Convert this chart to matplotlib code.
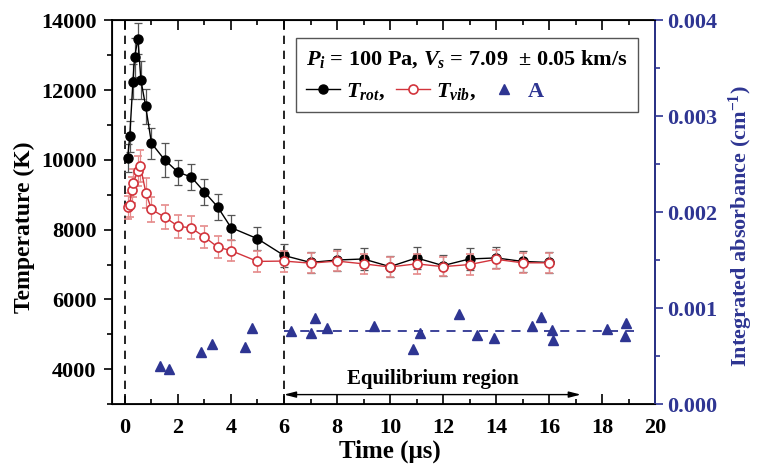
import numpy as np
import matplotlib
matplotlib.use("Agg")
import matplotlib.pyplot as plt
from matplotlib.lines import Line2D
from matplotlib.ticker import MultipleLocator, FormatStrFormatter

plt.rcParams['font.family'] = ['Liberation Serif', 'DejaVu Serif']
plt.rcParams['font.weight'] = 'bold'
plt.rcParams['mathtext.fontset'] = 'custom'
plt.rcParams['mathtext.rm'] = 'Liberation Serif:bold'
plt.rcParams['mathtext.it'] = 'Liberation Serif:italic:bold'
plt.rcParams['mathtext.bf'] = 'Liberation Serif:bold'

# rotational temperature (K) with error bars
t_rot = [0.1, 0.18, 0.3, 0.36, 0.49, 0.6, 0.78, 1.0, 1.5, 2, 2.5, 3, 3.5, 4, 5,
         6, 7, 8, 9, 10, 11, 12, 13, 14, 15, 16]
T_rot = [10050, 10680, 12240, 12940, 13480, 12290, 11540, 10480, 10000, 9650,
         9510, 9080, 8650, 8060, 7740, 7260, 7060, 7130, 7160, 6940, 7190,
         6970, 7160, 7190, 7090, 7060]
err_rot = [400, 450, 500, 550, 450, 550, 500, 450, 480, 360, 380, 380, 360,
           350, 330, 320, 300, 310, 320, 300, 310, 300, 310, 300, 290, 300]

# vibrational temperature (K) with error bars
t_vib = [0.1, 0.18, 0.25, 0.32, 0.48, 0.58, 0.79, 1.0, 1.5, 2, 2.5, 3, 3.5, 4,
         5, 6, 7, 8, 9, 10, 11, 12, 13, 14, 15, 16]
T_vib = [8650, 8700, 9140, 9350, 9680, 9830, 9050, 8580, 8360, 8100, 8050,
         7790, 7500, 7400, 7090, 7100, 7040, 7100, 7020, 6930, 7020, 6940,
         7000, 7150, 7050, 7050]
err_vib = [330, 350, 380, 400, 420, 460, 420, 370, 350, 335, 330, 320, 320,
           300, 290, 300, 280, 290, 290, 280, 290, 280, 290, 280, 280, 290]

# integrated absorbance (cm^-1)
t_abs = [1.33, 1.65, 2.87, 3.28, 4.54, 4.80, 6.25, 7.02, 7.18, 7.62, 9.38,
         10.87, 11.12, 12.60, 13.30, 13.92, 15.35, 15.69, 16.12, 16.15,
         18.20, 18.92, 18.87]
A_abs = [0.00040, 0.00037, 0.00054, 0.00063, 0.00059, 0.00079, 0.00076,
         0.00074, 0.00090, 0.00079, 0.00081, 0.00057, 0.00074, 0.00094,
         0.00072, 0.00069, 0.00081, 0.00091, 0.00077, 0.00067, 0.00078,
         0.00084, 0.00071]
A_mean = 0.00076
eq_start, eq_end = 6, 17.2

blue = '#2E3592'
red = '#D2343C'

fig = plt.figure(figsize=(7.57, 4.70), dpi=100)
ax = fig.add_axes([0.1476, 0.1404, 0.7177, 0.8160])
ax2 = ax.twinx()

ax.errorbar(t_rot, T_rot, yerr=err_rot, fmt='-o', color='black', ms=6.5,
            lw=1.0, ecolor='#555555', elinewidth=0.9, capsize=2.8,
            capthick=0.9, zorder=3)
ax.errorbar(t_vib, T_vib, yerr=err_vib, fmt='-o', color=red, mfc='white',
            mec=red, mew=1.2, ms=6.5, lw=1.0, ecolor='#E58A8A',
            elinewidth=0.9, capsize=2.8, capthick=0.9, zorder=4)

for xv in (0, 6):
    ax.axvline(xv, color='black', ls=(0, (5, 4)), lw=1.2, zorder=1)

ax.annotate('', xy=(eq_start, 3270), xytext=(eq_end, 3270),
            arrowprops=dict(arrowstyle='<|-|>,head_length=0.7,head_width=0.18',
                            color='black', lw=1.0, shrinkA=0, shrinkB=0))
ax.text((eq_start + eq_end) / 2, 3720, 'Equilibrium region', ha='center',
        va='center', fontsize=15, fontweight='bold')

ax.set_xlim(-0.5, 20)
ax.set_ylim(3000, 14000)
ax.xaxis.set_major_locator(MultipleLocator(2))
ax.xaxis.set_minor_locator(MultipleLocator(1))
ax.yaxis.set_major_locator(MultipleLocator(2000))
ax.yaxis.set_minor_locator(MultipleLocator(1000))
ax.set_yticks(range(4000, 14001, 2000))
ax.tick_params(axis='x', which='both', direction='in', top=True,
               labelsize=16, pad=10)
ax.tick_params(axis='x', which='major', length=7, width=1.2)
ax.tick_params(axis='x', which='minor', length=3.5, width=1.2)
ax.tick_params(axis='y', which='both', direction='out', labelsize=16, pad=5)
ax.tick_params(axis='y', which='major', length=6, width=1.2)
ax.tick_params(axis='y', which='minor', length=3.5, width=1.2)
ax.set_xlabel('Time (μs)', fontsize=18, fontweight='bold')
ax.set_ylabel('Temperature (K)', fontsize=17, fontweight='bold')
ax.xaxis.set_label_coords(0.512, -0.094)
ax.yaxis.set_label_coords(-0.142, 0.462)
for s in ax.spines.values():
    s.set_linewidth(1.3)

ax2.plot(t_abs, A_abs, ls='none', marker='^', ms=7.5, color=blue, zorder=3)
ax2.hlines(A_mean, 6, 19.2, colors=blue, linestyles=(0, (5, 4)), lw=1.3)
ax2.set_ylim(0, 0.004)
ax2.yaxis.set_major_locator(MultipleLocator(0.001))
ax2.yaxis.set_minor_locator(MultipleLocator(0.0005))
ax2.yaxis.set_major_formatter(FormatStrFormatter('%.3f'))
ax2.tick_params(axis='y', which='both', direction='out', colors=blue,
                labelsize=16, pad=3)
ax2.tick_params(axis='y', which='major', length=6, width=1.2)
ax2.tick_params(axis='y', which='minor', length=3.5, width=1.2)
ax2.spines['right'].set_color(blue)
ax2.spines['right'].set_linewidth(1.3)
ax2.set_ylabel('Integrated absorbance (cm$^{-1}$)', color=blue,
               fontsize=16, fontweight='bold')
ax2.yaxis.set_label_coords(1.133, 0.464)

handles = [
    Line2D([], [], color='black', marker='o', ms=6.5, lw=1.0),
    Line2D([], [], color=red, marker='o', mfc='white', mec=red, mew=1.2,
           ms=6.5, lw=1.0),
    Line2D([], [], ls='none', marker='^', ms=7, color=blue),
]
labels = [r'$T_{rot}$,', r'$T_{vib}$,', 'A']
leg = ax2.legend(handles, labels, ncol=3, loc='upper right',
                 bbox_to_anchor=(0.9687, 0.954), borderaxespad=0,
                 alignment='left',
                 title=r'$P_i$ = 100 Pa, $V_s$ = 7.09  ± 0.05 km/s',
                 title_fontproperties={'size': 16, 'weight': 'bold'},
                 prop={'size': 16, 'weight': 'bold'}, handlelength=1.5,
                 handletextpad=0.3, columnspacing=0.5, fancybox=False,
                 edgecolor='#555555', framealpha=1, borderpad=0.45)
leg.get_frame().set_linewidth(1.0)
leg.get_texts()[2].set_color(blue)

fig.savefig('out.png', dpi=100)
